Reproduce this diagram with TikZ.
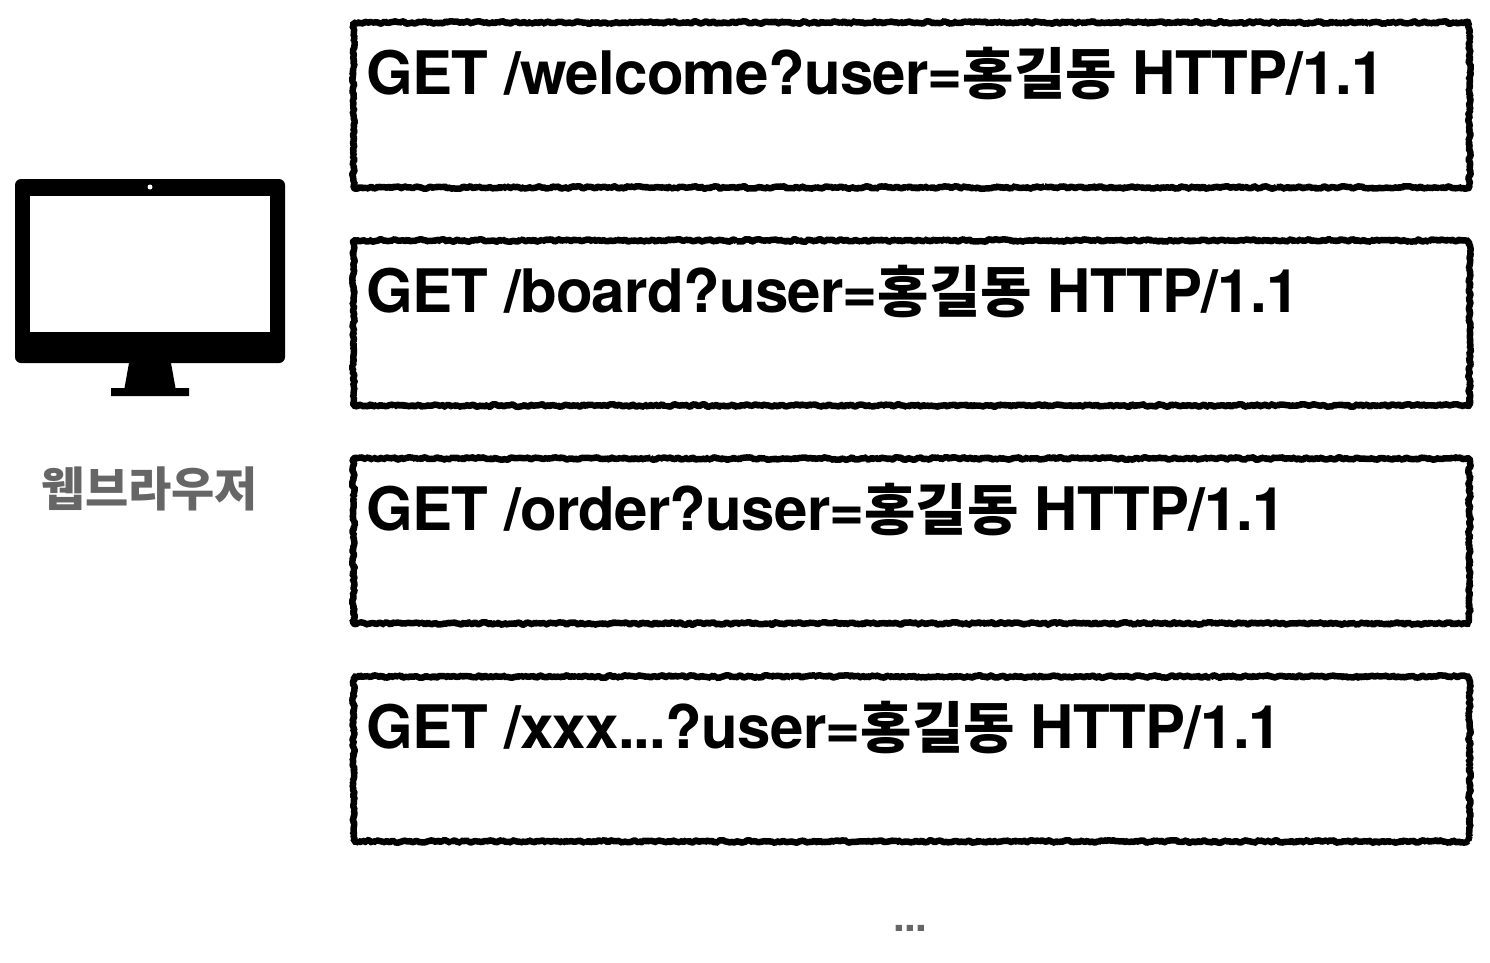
\documentclass[tikz,border=0pt]{standalone}
\usepackage{fontspec}
\setmainfont{TeX Gyre Heros}[LetterSpace=-1.2]
\newfontfamily\krfont{Noto Sans CJK KR}
\newfontfamily\krsmall{Noto Sans CJK KR}[Scale=0.93]
\usetikzlibrary{positioning,decorations.pathmorphing}
\newcommand{\hgd}{{\krsmall\bfseries 홍길동}}
\tikzset{
request/.style={draw,line width=6.5pt,line join=bevel,minimum width=1116pt,minimum height=165pt,
inner sep=0pt,outer sep=0pt,decorate,decoration={random steps,segment length=2pt,amplitude=1.3pt}},
reqtext/.style={inner sep=0pt,anchor=base west,font=\fontsize{60}{70}\selectfont\bfseries},
caption/.style={inner sep=0pt,text=black!60,font=\fontsize{47}{52}\selectfont\krfont\bfseries},
dots/.style={inner sep=0pt,text=black!60,font=\fontsize{42}{46}\selectfont\bfseries}
}
\begin{document}
\begin{tikzpicture}[x=1pt,y=-1pt]
\useasboundingbox (0,0) rectangle (1490,962);

% requests
\node[request] (r1) at (911.5,105) {};
\node[request,below=53pt of r1] (r2) {};
\node[request,below=53pt of r2] (r3) {};
\node[request,below=53pt of r3] (r4) {};

\node[reqtext] (t1) at (366,94) {GET /welcome?user=\hgd{} HTTP/1.1};
\node[reqtext] (t2) at (366,312) {GET /board?user=\hgd{} HTTP/1.1};
\node[reqtext] (t3) at (366,530) {GET /order?user=\hgd{} HTTP/1.1};
\node[reqtext] (t4) at (366,748) {GET /xxx...?user=\hgd{} HTTP/1.1};

% monitor
\fill[rounded corners=6pt] (15,179) rectangle (285,363);
\fill[white] (30,196) rectangle (270,332);
\fill[white] (150,187) circle (2.5);
\fill (129,363) -- (171,363) -- (175.5,388) -- (189,388) -- (189,396) -- (111,396) -- (111,388) -- (124.5,388) -- cycle;

\node[caption] (browser) at (150,489) {웹브라우저};
\node[dots] (more) at (910.5,928) {...};

\end{tikzpicture}
\end{document}
